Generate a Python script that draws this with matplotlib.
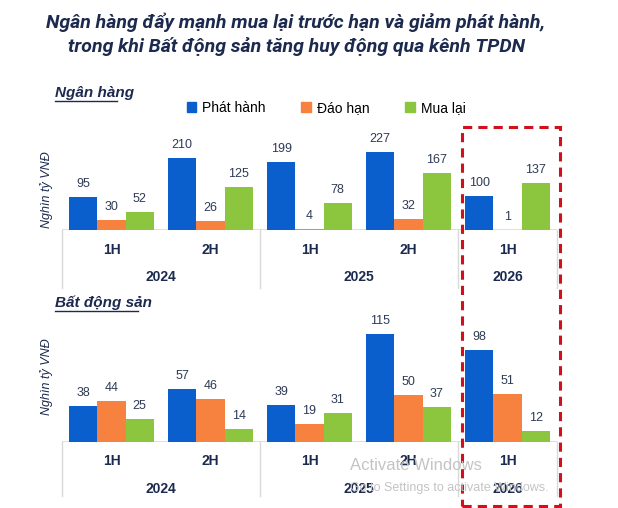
import matplotlib
matplotlib.use("Agg")
import matplotlib.pyplot as plt
import matplotlib.transforms as mtransforms
from matplotlib.lines import Line2D
from matplotlib.patches import Rectangle
import numpy as np

# data #
########

title = ("Ngân hàng đẩy mạnh mua lại trước hạn và giảm phát hành,\n"
         "trong khi Bất động sản tăng huy động qua kênh TPDN")
halves = ["1H", "2H", "1H", "2H", "1H"]
years = ["2024", "2025", "2026"]
year_span = [(0, 1), (2, 3), (4, 4)]
series = ["Phát hành", "Đáo hạn", "Mua lại"]

bank_issue = [95, 210, 199, 227, 100]
bank_mature = [30, 26, 4, 32, 1]
bank_buyback = [52, 125, 78, 167, 137]

re_issue = [38, 57, 39, 115, 98]
re_mature = [44, 46, 19, 50, 51]
re_buyback = [25, 14, 31, 37, 12]

colors = ["#0A5FCC", "#F7823F", "#8CC63F"]
navy = "#1B2A4E"
label_col = "#2E3A55"

# layout helpers #
##################

W, H = 618, 508
fig = plt.figure(figsize=(W / 100, H / 100), dpi=100)
fig.patch.set_facecolor("white")


def fx(px):
    return px / W


def fy(py):
    return 1 - py / H


def make_panel(top_px, base_px, ymax, values, name, name_y, ylab_y, cat_y, year_y, sep_bottom):
    ax = fig.add_axes([fx(62), fy(base_px), fx(557 - 62), (base_px - top_px) / H])
    x = np.arange(len(halves))
    w = 0.285
    for i, (vals, c) in enumerate(zip(values, colors)):
        pos = x + (i - 1) * w
        ax.bar(pos, vals, width=w, color=c, edgecolor="none")
        for p, v in zip(pos, vals):
            ax.annotate(str(v), (p, v), xytext=(0, 5), textcoords="offset points",
                        ha="center", va="bottom", fontsize=9, color=label_col,
                        family="Liberation Sans")
    ax.set_xlim(-0.5, 4.5)
    ax.set_ylim(0, ymax)
    ax.axis("off")
    ax.axhline(0, color="#D9D9D9", lw=1.2, zorder=0)

    # category labels under the bars
    tr = mtransforms.blended_transform_factory(ax.transData, fig.transFigure)
    for xi, lab in zip(x, halves):
        ax.text(xi, fy(cat_y), lab, transform=tr, ha="center", va="center",
                fontsize=10, fontweight="bold", color=navy, family="Liberation Sans")
    for yr, (a, b) in zip(years, year_span):
        ax.text((a + b) / 2, fy(year_y), yr, transform=tr, ha="center", va="center",
                fontsize=10, fontweight="bold", color=navy, family="Liberation Sans")
    for sx in [-0.5, 1.5, 3.5, 4.5]:
        ax.add_line(Line2D([sx, sx], [fy(base_px), fy(sep_bottom)], transform=tr,
                           color="#D9D9D9", lw=1, clip_on=False))

    fig.text(fx(55), fy(name_y), name, fontsize=11, fontweight="bold", style="italic",
             color=navy, va="center", ha="left", family="Liberation Sans")
    # underline
    fig.add_artist(Line2D([fx(55), fx(55 + 6.9 * len(name))], [fy(name_y + 8), fy(name_y + 8)],
                          color=navy, lw=1))
    fig.text(fx(47), fy(ylab_y), "Nghìn tỷ VNĐ", rotation=90, fontsize=9, style="italic",
             color=navy, ha="center", va="center", family="Liberation Sans")
    return ax


# title #
#########

fig.text(fx(296), fy(34), title, ha="center", va="center", fontsize=14,
         fontweight="bold", style="italic", color=navy, linespacing=1.35, family="Roboto")

# panels #
##########

make_panel(140, 230, 262, [bank_issue, bank_mature, bank_buyback], "Ngân hàng",
           93, 190, 250, 277, 288)
make_panel(320, 442, 130, [re_issue, re_mature, re_buyback], "Bất động sản",
           303, 377, 461, 489, 496)

# legend #
##########

handles = [Rectangle((0, 0), 1, 1, color=c) for c in colors]
fig.legend(handles, series, loc="center left", bbox_to_anchor=(fx(174), fy(108)),
           ncol=3, frameon=False, handlelength=0.7, handleheight=0.7,
           handletextpad=0.4, columnspacing=2.6, prop={"family": "Liberation Sans", "size": 10})

# highlight box #
#################

fig.add_artist(Rectangle((fx(462), fy(506)), fx(560 - 462), (506 - 127) / H,
                         transform=fig.transFigure, fill=False, edgecolor="#D0111B",
                         lw=2.2, linestyle=(0, (3, 2))))

# screen watermark #
####################

fig.text(fx(350), fy(466), "Activate Windows", fontsize=12, color="#C4C4C4",
         va="center", ha="left", family="Liberation Sans")
fig.text(fx(350), fy(488), "Go to Settings to activate Windows.", fontsize=9,
         color="#C4C4C4", va="center", ha="left", family="Liberation Sans")

fig.savefig("out.png", dpi=100, facecolor="white")
